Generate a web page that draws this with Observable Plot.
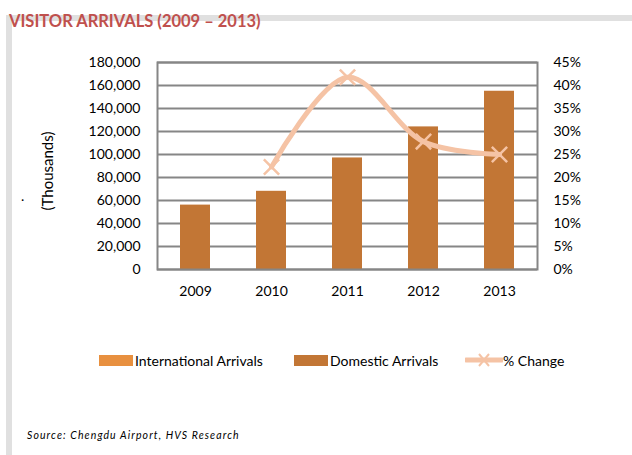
<!DOCTYPE html>
<html>
<head>
<meta charset="utf-8">
<script src="https://cdn.jsdelivr.net/npm/d3@7"></script>
<script src="https://cdn.jsdelivr.net/npm/@observablehq/plot@0.6"></script>
<style>
  html, body { margin: 0; padding: 0; background: #fff; }
  #wrap { position: relative; width: 632px; height: 455px; overflow: hidden; font-family: Lato, "Open Sans", sans-serif; }
  .band-top { position: absolute; left: 6px; top: 15px; width: 626px; height: 6px; background: #e0e0e0; }
  .band-left { position: absolute; left: 6px; top: 15px; width: 6px; height: 440px; background: #e0e0e0; }
  #title { position: absolute; left: 9px; top: 11px; font-size: 16.5px; font-weight: bold; color: #c0504d; white-space: nowrap; }
  #chart { position: absolute; left: 0; top: 40px; }
  #ylab { position: absolute; left: 47px; top: 171px; transform: translate(-50%, -50%) rotate(-90deg); font-size: 15px; color: #000; white-space: nowrap; }
  #dot { position: absolute; left: 21px; top: 187px; font-size: 14px; color: #000; }
  #legend { position: absolute; top: 350px; left: 0; width: 632px; height: 20px; font-size: 14px; color: #000; }
  .item { position: absolute; top: 0; display: flex; align-items: center; height: 20px; white-space: nowrap; }
  .sw { width: 34px; height: 11px; margin-right: 2px; }
  #source { position: absolute; left: 27px; top: 429px; font-size: 10.5px; font-style: italic; letter-spacing: 1.1px; color: #000; white-space: nowrap; }
</style>
</head>
<body>
<div id="wrap">
  <div class="band-top"></div>
  <div class="band-left"></div>
  <div id="title">VISITOR ARRIVALS (2009 – 2013)</div>
  <div id="chart"></div>
  <div id="ylab">(Thousands)</div>
  <div id="dot">.</div>
  <div id="legend"></div>
  <div id="source">Source: Chengdu Airport, HVS Research</div>
</div>
<script>
const years = ["2009", "2010", "2011", "2012", "2013"];
const domesticArrivals = [56000, 68000, 97000, 124000, 155000];
const internationalArrivals = [0, 0, 0, 0, 0];
const changeYears = ["2010", "2011", "2012", "2013"];
const pctChange = [22.3, 41.8, 27.8, 25.0];
const leftTicks = [0, 20000, 40000, 60000, 80000, 100000, 120000, 140000, 160000, 180000];
const rightTickLabels = ["0%", "5%", "10%", "15%", "20%", "25%", "30%", "35%", "40%", "45%"];
const seriesNames = ["International Arrivals", "Domestic Arrivals", "% Change"];

const colIntl = "#e8903f";
const colDom = "#c27635";
const colLine = "#f5c3a5";
const gridCol = "#868686";

const bars = years.map((y, i) => ({year: y, value: domesticArrivals[i]}));
const pctMax = 45, valMax = 180000;
const line = changeYears.map((y, i) => ({year: y, pct: pctChange[i]}));

const plot = Plot.plot({
  width: 632,
  height: 290,
  marginLeft: 157,
  marginRight: 95,
  marginTop: 22,
  marginBottom: 61,
  style: {fontFamily: "Lato, sans-serif", fontSize: "14px", color: "#000", background: "transparent"},
  x: {domain: years, paddingInner: 0.6, paddingOuter: 0.3, label: null},
  y: {domain: [0, valMax], label: null},
  marks: [
    Plot.gridY(leftTicks, {stroke: gridCol, strokeOpacity: 1, strokeWidth: 2}),
    Plot.barY(bars, {x: "year", y: "value", fill: colDom}),
    Plot.frame({stroke: gridCol, strokeWidth: 2}),
    Plot.axisY(leftTicks, {anchor: "left", tickSize: 0, tickPadding: 17, tickFormat: d => d3.format(",")(d), label: null, fontSize: 14}),
    Plot.axisY(leftTicks, {anchor: "right", tickSize: 0, tickPadding: 16, tickFormat: d => rightTickLabels[leftTicks.indexOf(d)], label: null, fontSize: 14}),
    Plot.axisX({tickSize: 0, tickPadding: 17, label: null, fontSize: 14}),
    Plot.line(line, {x: "year", y: d => d.pct / pctMax * valMax, stroke: colLine, strokeWidth: 5, curve: "catmull-rom"}),
    Plot.dot(line, {x: "year", y: d => d.pct / pctMax * valMax, symbol: "times", r: 7, stroke: colLine, strokeWidth: 2.5})
  ]
});
document.getElementById("chart").appendChild(plot);

const legend = document.getElementById("legend");
const lefts = [99, 294, 465];
seriesNames.forEach((name, i) => {
  const item = document.createElement("div");
  item.className = "item";
  item.style.left = lefts[i] + "px";
  if (i < 2) {
    const sw = document.createElement("div");
    sw.className = "sw";
    sw.style.background = i === 0 ? colIntl : colDom;
    item.appendChild(sw);
  } else {
    const ns = "http://www.w3.org/2000/svg";
    const svg = document.createElementNS(ns, "svg");
    svg.setAttribute("width", 38); svg.setAttribute("height", 14);
    const l = document.createElementNS(ns, "line");
    l.setAttribute("x1", 1); l.setAttribute("x2", 37); l.setAttribute("y1", 7); l.setAttribute("y2", 7);
    l.setAttribute("stroke", colLine); l.setAttribute("stroke-width", 5); l.setAttribute("stroke-linecap", "round");
    svg.appendChild(l);
    const p = document.createElementNS(ns, "path");
    p.setAttribute("d", "M14,1L24,13M24,1L14,13");
    p.setAttribute("stroke", colLine); p.setAttribute("stroke-width", 2);
    svg.appendChild(p);
    item.appendChild(svg);
  }
  const t = document.createElement("span");
  t.textContent = name;
  item.appendChild(t);
  legend.appendChild(item);
});
</script>
</body>
</html>
